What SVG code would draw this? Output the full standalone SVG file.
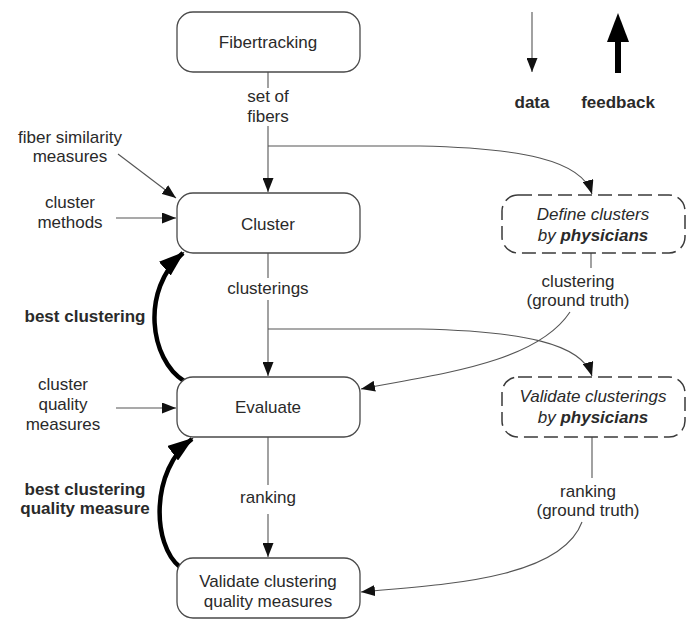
<svg xmlns="http://www.w3.org/2000/svg" width="693" height="619" viewBox="0 0 693 619">
<defs>
<marker id="ah" viewBox="0 0 14 11" refX="14" refY="5.5" markerWidth="14" markerHeight="11" markerUnits="userSpaceOnUse" orient="auto">
<path d="M0,0 L14,5.5 L0,11 Z" fill="#111"/>
</marker>
<marker id="ahb" viewBox="0 0 26 18" refX="24" refY="9" markerWidth="26" markerHeight="18" markerUnits="userSpaceOnUse" orient="auto">
<path d="M0,0 L26,9 L0,18 Z" fill="#000"/>
</marker>
</defs>
<style>
text{font-family:"Liberation Sans",Arial,sans-serif;font-size:17px;fill:#2a2a2a;text-anchor:middle}
.b{font-weight:bold}
.i{font-style:italic}
.box{fill:#fff;stroke:#4a4a4a;stroke-width:1.3}
.dbox{fill:#fff;stroke:#3a3a3a;stroke-width:1.5;stroke-dasharray:14 6}
.ln{fill:none;stroke:#555;stroke-width:1.1}
.fb{fill:none;stroke:#000;stroke-width:4.5}
</style>
<rect width="693" height="619" fill="#fff"/>
<g id="connectors">
<path class="ln" d="M268,72 L268,88"/>
<path class="ln" d="M268,126 L268,192" marker-end="url(#ah)"/>
<path class="ln" d="M268,146 L420,146 C520,148 582,160 592,194" marker-end="url(#ah)"/>
<path class="ln" d="M118,154 L176,198" marker-end="url(#ah)"/>
<path class="ln" d="M116,218 L176,218" marker-end="url(#ah)"/>
<path class="ln" d="M268,253 L268,278"/>
<path class="ln" d="M268,300 L268,376" marker-end="url(#ah)"/>
<path class="ln" d="M268,329 L420,329 C520,331 582,343 592,376" marker-end="url(#ah)"/>
<path class="ln" d="M591,253 L591,268"/>
<path class="ln" d="M570,312 C535,365 430,375 361,389" marker-end="url(#ah)"/>
<path class="ln" d="M116,408 L176,408" marker-end="url(#ah)"/>
<path class="ln" d="M268,437 L268,485"/>
<path class="ln" d="M268,514 L268,557" marker-end="url(#ah)"/>
<path class="ln" d="M592,437 L592,478"/>
<path class="ln" d="M582,522 C560,582 430,585 361,592" marker-end="url(#ah)"/>
<path class="fb" d="M184,381 C150,360 140,290 183,253" marker-end="url(#ahb)"/>
<path class="fb" d="M180,567 C152,545 150,470 192,439" marker-end="url(#ahb)"/>
</g>
<g id="legend">
<path class="ln" d="M532,12 L532,72" marker-end="url(#ah)"/>
<path d="M618,73 L618,40" fill="none" stroke="#000" stroke-width="6"/>
<path d="M607,42 L618,13 L629,42 Z" fill="#000"/>
<text x="532" y="108" class="b">data</text>
<text x="618" y="108" class="b">feedback</text>
</g>
<g id="fibertracking">
<rect class="box" x="177" y="12" width="183" height="60" rx="16"/>
<text x="268" y="48">Fibertracking</text>
</g>
<g id="cluster">
<rect class="box" x="177" y="193" width="183" height="60" rx="16"/>
<text x="268" y="230">Cluster</text>
</g>
<g id="evaluate">
<rect class="box" x="177" y="377" width="183" height="60" rx="16"/>
<text x="268" y="413">Evaluate</text>
</g>
<g id="validate-quality">
<rect class="box" x="177" y="558" width="183" height="60" rx="16"/>
<text x="268" y="587">Validate clustering</text>
<text x="268" y="607">quality measures</text>
</g>
<g id="define-clusters">
<rect class="dbox" x="502" y="195" width="183" height="58" rx="16"/>
<text x="593" y="220" class="i">Define clusters</text>
<text x="593" y="241" class="i">by <tspan class="b">physicians</tspan></text>
</g>
<g id="validate-clusterings">
<rect class="dbox" x="502" y="377" width="183" height="60" rx="16"/>
<text x="593" y="402" class="i">Validate clusterings</text>
<text x="593" y="423" class="i">by <tspan class="b">physicians</tspan></text>
</g>
<g id="labels">
<text x="268" y="102">set of</text>
<text x="268" y="122">fibers</text>
<text x="70" y="143">fiber similarity</text>
<text x="70" y="162">measures</text>
<text x="70" y="208">cluster</text>
<text x="70" y="228">methods</text>
<text x="268" y="294">clusterings</text>
<text x="85" y="322" class="b">best clustering</text>
<text x="63" y="390">cluster</text>
<text x="63" y="410">quality</text>
<text x="63" y="430">measures</text>
<text x="268" y="503">ranking</text>
<text x="85" y="495" class="b">best clustering</text>
<text x="85" y="514" class="b">quality measure</text>
<text x="578" y="287">clustering</text>
<text x="578" y="306">(ground truth)</text>
<text x="588" y="497">ranking</text>
<text x="588" y="516">(ground truth)</text>
</g>
</svg>
